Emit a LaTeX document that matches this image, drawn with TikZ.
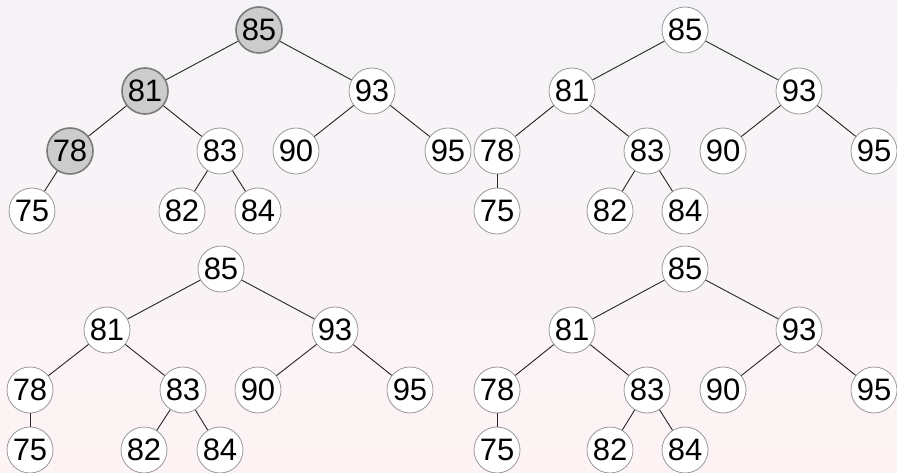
\documentclass[tikz,border=0pt]{standalone}
\usepackage{fontspec}
\setmainfont{Liberation Sans}
\definecolor{bgtop}{HTML}{F5F3F7}
\definecolor{bgbot}{HTML}{FDF3F4}
\definecolor{ringgray}{HTML}{999999}
\definecolor{hlfill}{HTML}{CCCCCC}
\definecolor{hlring}{HTML}{7A7A7A}
\tikzset{
  key/.style={circle, draw=ringgray, line width=0.8pt, fill=white, minimum size=46pt, inner sep=0pt, font=\fontsize{31}{32}\selectfont},
  hl/.style={key, fill=hlfill, draw=hlring, line width=1.6pt},
  edge/.style={draw=black!85, line width=0.9pt}
}
\begin{document}
\begin{tikzpicture}[x=1pt,y=-1pt]
\shade[top color=bgtop, bottom color=bgbot] (0,0) rectangle (897,473);
\useasboundingbox (0,0) rectangle (897,473);
% Tree 1
\node[hl]  (a85) at (259,30) {85};
\node[hl]  (a81) at (145,91) {81};
\node[key] (a93) at (372,91) {93};
\node[hl]  (a78) at (70,151) {78};
\node[key] (a83) at (220,151) {83};
\node[key] (a90) at (296,151) {90};
\node[key] (a95) at (448,151) {95};
\node[key] (a75) at (32,211) {75};
\node[key] (a82) at (182,211) {82};
\node[key] (a84) at (258,211) {84};
% Tree 2
\node[key] (b85) at (685,30) {85};
\node[key] (b81) at (572,91) {81};
\node[key] (b93) at (799,91) {93};
\node[key] (b78) at (497,151) {78};
\node[key] (b83) at (647,151) {83};
\node[key] (b90) at (723,151) {90};
\node[key] (b95) at (874,151) {95};
\node[key] (b75) at (497,211) {75};
\node[key] (b82) at (610,211) {82};
\node[key] (b84) at (685,211) {84};
% Tree 3
\node[key] (c85) at (221,269) {85};
\node[key] (c81) at (107,330) {81};
\node[key] (c93) at (335,330) {93};
\node[key] (c78) at (30,390) {78};
\node[key] (c83) at (183,390) {83};
\node[key] (c90) at (258,390) {90};
\node[key] (c95) at (410,390) {95};
\node[key] (c75) at (30,450) {75};
\node[key] (c82) at (144,450) {82};
\node[key] (c84) at (220,450) {84};
% Tree 4
\node[key] (d85) at (685,269) {85};
\node[key] (d81) at (572,330) {81};
\node[key] (d93) at (799,330) {93};
\node[key] (d78) at (497,390) {78};
\node[key] (d83) at (647,390) {83};
\node[key] (d90) at (723,390) {90};
\node[key] (d95) at (874,390) {95};
\node[key] (d75) at (497,450) {75};
\node[key] (d82) at (610,450) {82};
\node[key] (d84) at (685,450) {84};
\foreach \t in {a,b,c,d}{
  \draw[edge] (\t85) -- (\t81);
  \draw[edge] (\t85) -- (\t93);
  \draw[edge] (\t81) -- (\t78);
  \draw[edge] (\t81) -- (\t83);
  \draw[edge] (\t93) -- (\t90);
  \draw[edge] (\t93) -- (\t95);
  \draw[edge] (\t78) -- (\t75);
  \draw[edge] (\t83) -- (\t82);
  \draw[edge] (\t83) -- (\t84);
}
\end{tikzpicture}
\end{document}
